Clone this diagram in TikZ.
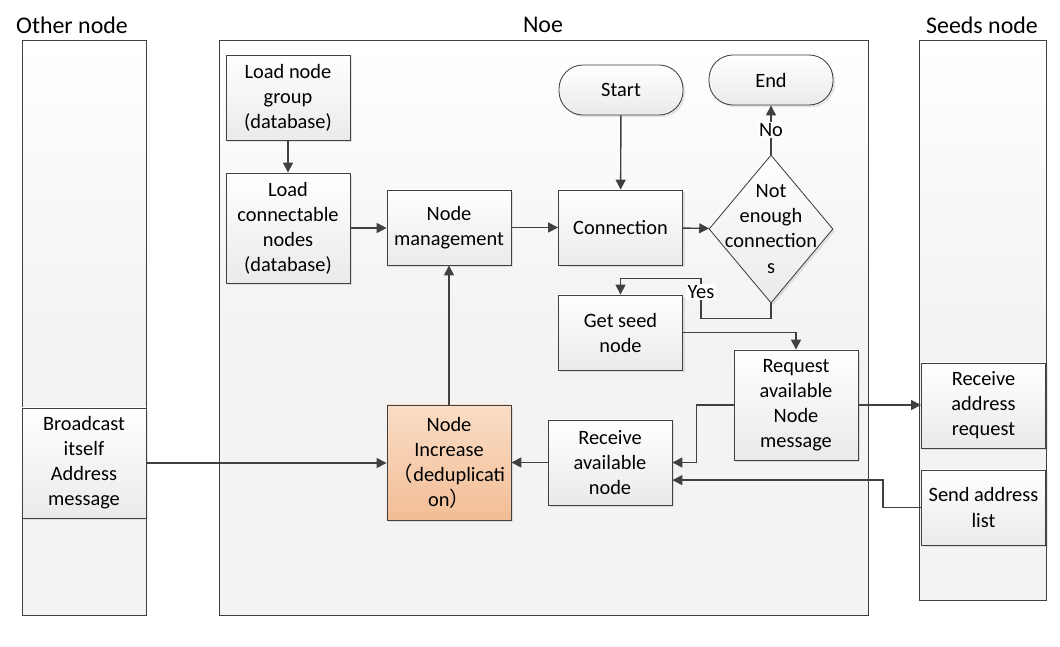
\documentclass[tikz,border=0pt]{standalone}
\usepackage{fontspec}
\setmainfont{Carlito}
\newfontfamily\cjkfont{Noto Sans CJK SC}
\usetikzlibrary{shapes.geometric,arrows.meta,shadows}
\definecolor{linegray}{HTML}{404040}
\definecolor{lanefill}{HTML}{F3F3F3}
\definecolor{boxbottom}{HTML}{EAEAEA}
\definecolor{orangetop}{HTML}{FADDC6}
\definecolor{orangebottom}{HTML}{F2BD95}
\tikzstyle{lane}=[draw=linegray, line width=0.6pt, top color=white, bottom color=lanefill, middle color=lanefill]
\tikzstyle{title}=[font=\fontsize{17pt}{20pt}\selectfont, inner sep=0pt]
\tikzstyle{process}=[draw=linegray, line width=0.6pt, top color=white, bottom color=boxbottom,
  align=center, minimum width=3.1cm, inner sep=1pt,
  drop shadow={shadow xshift=1.5pt, shadow yshift=-1.5pt, opacity=0.2},
  font=\fontsize{14.5pt}{17.8pt}\selectfont]
\tikzstyle{terminal}=[process, rounded corners=0.6cm, minimum height=1.25cm]
\tikzstyle{decision}=[process, diamond, minimum width=3.1cm, minimum height=3.7cm, inner sep=0pt]
\tikzstyle{highlight}=[process, top color=orangetop, bottom color=orangebottom]
\tikzstyle{arrow}=[draw=linegray, line width=1pt, -{Triangle[length=7pt,width=7pt]}]
\tikzstyle{answer}=[fill=white, inner sep=1pt, font=\fontsize{14.5pt}{17.8pt}\selectfont]

\begin{document}
\begin{tikzpicture}[x=0.025cm, y=-0.025cm]
\useasboundingbox (0,0) rectangle (1060,646);
% Lanes
    \draw[lane] (22,40) rectangle (146,615);
    \draw[lane] (219,40) rectangle (868,615);
    \draw[lane] (919,40) rectangle (1046,600);
    \node[title] (othertitle) at (72,25) {Other node};
    \node[title] (noetitle) at (543,25) {Noe};
    \node[title] (seedstitle) at (982,25) {Seeds node};
% Other node
    \node[process, minimum height=2.75cm] (broadcast) at (84,463) {Broadcast\\itself\\Address\\message};
% Noe
    \node[process, minimum height=2.125cm] (loadgroup) at (288,97.5) {Load node\\group\\(database)};
    \node[process, minimum height=2.75cm] (loadconn) at (288,228) {Load\\connectable\\nodes\\(database)};
    \node[process, minimum height=1.875cm] (mgmt) at (449,227.5) {Node\\management};
    \node[process, minimum height=1.875cm] (conn) at (620.5,227.5) {Connection};
    \node[terminal] (start) at (621,90) {Start};
    \node[terminal] (endnode) at (771,80) {End};
    \node[decision] (check) at (771,229) {};
    \node[font=\fontsize{14.5pt}{17.8pt}\selectfont, align=center] (checktext) at (771,229) {Not\\enough\\connection\\s};
    \node[process, minimum height=1.875cm] (seed) at (620.5,332.5) {Get seed\\node};
    \node[process, minimum height=2.75cm] (request) at (796,405) {Request\\available\\Node\\message};
    \node[highlight, minimum height=2.875cm] (increase) at (449,462.5) {Node\\Increase\\{\cjkfont （}deduplicati\\on{\cjkfont ）}};
    \node[process, minimum height=2.125cm] (recvavail) at (610,462.5) {Receive\\available\\node};
% Seeds node
    \node[process, minimum height=2.125cm] (recvaddr) at (983.5,405.5) {Receive\\address\\request};
    \node[process, minimum height=1.875cm] (sendlist) at (983.5,507.5) {Send address\\list};
% Arrows
    \draw[arrow] (loadgroup) -- (loadconn);
    \draw[arrow] (loadconn.east) -- (loadconn.east -| mgmt.west);
    \draw[arrow] (mgmt) -- (conn);
    \draw[arrow] (start) -- (conn);
    \draw[arrow] (conn) -- (check);
    \draw[arrow] (check) -- node[answer] (no) {No} (endnode);
    \draw[arrow] (check.south) -- ++(0,15) -- ++(-70,0) -- node[answer, pos=0.65] (yes) {Yes} ++(0,-40) -| (seed.north);
    \draw[arrow] (seed.east) -| (request.north);
    \draw[arrow] (request.west) -- ++(-37,0) |- (recvavail.east);
    \draw[arrow] (request.east) -- (request.east -| recvaddr.west);
    \draw[arrow] (sendlist.west) -- ++(-38,0) |- ([yshift=-0.44cm]recvavail.east);
    \draw[arrow] (recvavail.west) -- (recvavail.west -| increase.east);
    \draw[arrow] (broadcast.east) -- (broadcast.east -| increase.west);
    \draw[arrow] (increase) -- (mgmt);
\end{tikzpicture}
\end{document}
